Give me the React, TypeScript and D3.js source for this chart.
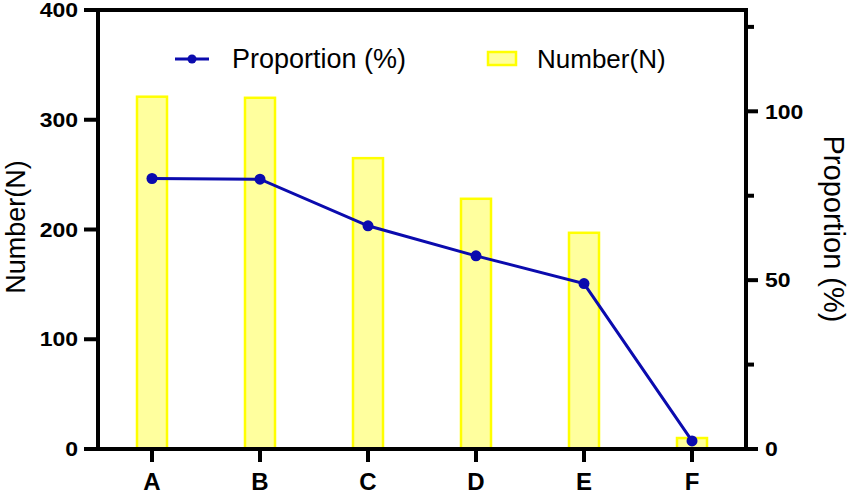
import React, { useEffect, useRef } from 'react';
import * as d3 from 'd3';

const categories = ['A', 'B', 'C', 'D', 'E', 'F'];
const numbers = [321, 320, 265, 228, 197, 10];
const proportions = [80.1, 79.9, 66.1, 57.2, 49.0, 2.4];
const leftTicks = [0, 100, 200, 300, 400];
const rightTicks = [0, 50, 100];
const rightMinorTicks = [25, 75, 125];

const FONT = "'Liberation Sans', Arial, sans-serif";
const LINE_COLOR = '#0b0bae';

const App: React.FC = () => {
  const svgRef = useRef<SVGSVGElement>(null);

  useEffect(() => {
    if (!svgRef.current) return;
    const svg = d3.select(svgRef.current);
    svg.selectAll('*').remove();

    const left = 98;
    const right = 746;
    const top = 10;
    const bottom = 449;

    const x = d3.scaleBand<string>().domain(categories).range([left, right]).padding(0);
    const yL = d3.scaleLinear().domain([0, 400]).range([bottom, top]);
    const yR = d3.scaleLinear().domain([0, 130]).range([bottom, top]);

    const barW = 30;

    // bars
    svg
      .append('g')
      .selectAll('rect')
      .data(numbers)
      .enter()
      .append('rect')
      .attr('x', (_d, i) => x(categories[i])! + x.bandwidth() / 2 - barW / 2)
      .attr('y', (d) => yL(d))
      .attr('width', barW)
      .attr('height', (d) => bottom - yL(d))
      .attr('fill', '#ffff9e')
      .attr('stroke', '#ffff00')
      .attr('stroke-width', 2.5);

    // frame: top border
    svg
      .append('line')
      .attr('x1', left)
      .attr('x2', right)
      .attr('y1', top)
      .attr('y2', top)
      .attr('stroke', '#000')
      .attr('stroke-width', 4);

    // left axis
    const gL = svg.append('g').attr('transform', `translate(${left},0)`);
    gL.append('line').attr('y1', top - 2).attr('y2', bottom + 2).attr('stroke', '#000').attr('stroke-width', 4);
    gL.selectAll('line.t')
      .data(leftTicks)
      .enter()
      .append('line')
      .attr('class', 't')
      .attr('x1', -14)
      .attr('x2', 0)
      .attr('y1', (d) => yL(d))
      .attr('y2', (d) => yL(d))
      .attr('stroke', '#000')
      .attr('stroke-width', 4);
    gL.selectAll('g.lbl')
      .data(leftTicks)
      .enter()
      .append('g')
      .attr('class', 'lbl')
      .attr('transform', (d) => `translate(-20,${yL(d)}) scale(1.15,1)`)
      .append('text')
      .attr('dy', '0.36em')
      .attr('text-anchor', 'end')
      .attr('font-family', FONT)
      .attr('font-weight', 'bold')
      .attr('font-size', 20)
      .text((d) => d);

    // right axis
    const gR = svg.append('g').attr('transform', `translate(${right},0)`);
    gR.append('line').attr('y1', top - 2).attr('y2', bottom + 2).attr('stroke', '#000').attr('stroke-width', 4);
    gR.selectAll('line.t')
      .data(rightTicks)
      .enter()
      .append('line')
      .attr('class', 't')
      .attr('x1', 0)
      .attr('x2', 12)
      .attr('y1', (d) => yR(d))
      .attr('y2', (d) => yR(d))
      .attr('stroke', '#000')
      .attr('stroke-width', 4);
    gR.selectAll('line.m')
      .data(rightMinorTicks)
      .enter()
      .append('line')
      .attr('class', 'm')
      .attr('x1', 0)
      .attr('x2', 8)
      .attr('y1', (d) => yR(d))
      .attr('y2', (d) => yR(d))
      .attr('stroke', '#000')
      .attr('stroke-width', 4);
    gR.selectAll('g.lbl')
      .data(rightTicks)
      .enter()
      .append('g')
      .attr('class', 'lbl')
      .attr('transform', (d) => `translate(19,${yR(d)}) scale(1.15,1)`)
      .append('text')
      .attr('dy', '0.36em')
      .attr('text-anchor', 'start')
      .attr('font-family', FONT)
      .attr('font-weight', 'bold')
      .attr('font-size', 20)
      .text((d) => d);

    // bottom axis
    const gB = svg.append('g');
    gB.append('line')
      .attr('x1', left - 14)
      .attr('x2', right + 8)
      .attr('y1', bottom)
      .attr('y2', bottom)
      .attr('stroke', '#000')
      .attr('stroke-width', 4);
    gB.selectAll('line.t')
      .data(categories)
      .enter()
      .append('line')
      .attr('class', 't')
      .attr('x1', (d) => x(d)! + x.bandwidth() / 2)
      .attr('x2', (d) => x(d)! + x.bandwidth() / 2)
      .attr('y1', bottom)
      .attr('y2', bottom + 13)
      .attr('stroke', '#000')
      .attr('stroke-width', 4);
    gB.selectAll('text')
      .data(categories)
      .enter()
      .append('text')
      .attr('x', (d) => x(d)! + x.bandwidth() / 2)
      .attr('y', 490)
      .attr('text-anchor', 'middle')
      .attr('font-family', FONT)
      .attr('font-weight', 'bold')
      .attr('font-size', 24)
      .text((d) => d);

    // axis titles
    svg
      .append('text')
      .attr('transform', `translate(25, 227) rotate(-90)`)
      .attr('text-anchor', 'middle')
      .attr('font-family', FONT)
      .attr('font-size', 27)
      .text('Number(N)');
    svg
      .append('text')
      .attr('transform', `translate(824, 229) rotate(90)`)
      .attr('text-anchor', 'middle')
      .attr('font-family', FONT)
      .attr('font-size', 29)
      .text('Proportion (%)');

    // line
    const line = d3
      .line<number>()
      .x((_d, i) => x(categories[i])! + x.bandwidth() / 2)
      .y((d) => yR(d));
    svg
      .append('path')
      .datum(proportions)
      .attr('d', line)
      .attr('fill', 'none')
      .attr('stroke', LINE_COLOR)
      .attr('stroke-width', 3);
    svg
      .append('g')
      .selectAll('circle')
      .data(proportions)
      .enter()
      .append('circle')
      .attr('cx', (_d, i) => x(categories[i])! + x.bandwidth() / 2)
      .attr('cy', (d) => yR(d))
      .attr('r', 5.5)
      .attr('fill', LINE_COLOR);

    // legend
    const lg = svg.append('g');
    lg.append('line')
      .attr('x1', 175)
      .attr('x2', 209)
      .attr('y1', 59)
      .attr('y2', 59)
      .attr('stroke', LINE_COLOR)
      .attr('stroke-width', 3);
    lg.append('circle').attr('cx', 192).attr('cy', 59).attr('r', 4.5).attr('fill', LINE_COLOR);
    lg.append('text')
      .attr('x', 232)
      .attr('y', 68)
      .attr('font-family', FONT)
      .attr('font-size', 27)
      .text('Proportion (%)');
    lg.append('rect')
      .attr('x', 488)
      .attr('y', 52)
      .attr('width', 28)
      .attr('height', 13)
      .attr('fill', '#ffff9e')
      .attr('stroke', '#ffff00')
      .attr('stroke-width', 2.5);
    lg.append('text')
      .attr('x', 537)
      .attr('y', 68)
      .attr('font-family', FONT)
      .attr('font-size', 26)
      .text('Number(N)');
  }, []);

  return (
    <svg
      ref={svgRef}
      width={851}
      height={494}
      style={{ position: 'absolute', left: 0, top: 0, background: '#fff' }}
    />
  );
};

export default App;
